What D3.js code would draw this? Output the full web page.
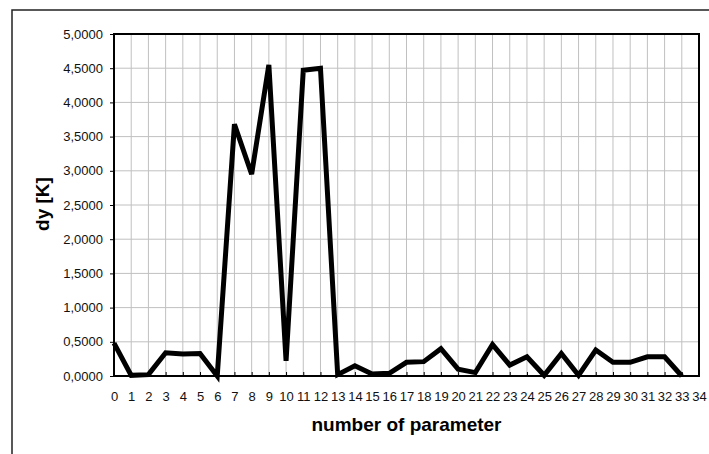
<!DOCTYPE html>
<html><head><meta charset="utf-8">
<script src="https://cdn.jsdelivr.net/npm/d3@7"></script>
<style>body{margin:0;background:#fff}svg{display:block}</style>
</head><body>
<script>
const params = d3.range(0, 34);
const dyValues = [0.48,0.01,0.02,0.34,0.32,0.33,0.0,3.68,2.95,4.55,0.22,4.47,4.50,0.02,0.15,0.03,0.04,0.20,0.21,0.40,0.10,0.05,0.46,0.16,0.28,0.01,0.33,0.01,0.38,0.20,0.20,0.28,0.28,0.0];
const xTicks = d3.range(0, 35);
const yTicks = d3.range(0, 5.0001, 0.5);
const xTitle = "number of parameter";
const yTitle = "dy [K]";

const W = 709, H = 454;
const m = {left:114, top:34, right:699, bottom:376};
const svg = d3.select("body").append("svg").attr("width", W).attr("height", H);
const font = "Liberation Sans, Arial, sans-serif";

svg.append("rect").attr("x",12).attr("y",10).attr("width",W+20).attr("height",H+20)
  .attr("fill","none").attr("stroke","#222").attr("stroke-width",1.5);

const x = d3.scaleLinear().domain([0,34]).range([m.left, m.right]);
const y = d3.scaleLinear().domain([0,5]).range([m.bottom, m.top]);

const g = svg.append("g");
g.selectAll(".vg").data(xTicks).enter().append("line")
  .attr("x1",d=>x(d)).attr("x2",d=>x(d)).attr("y1",m.top).attr("y2",m.bottom)
  .attr("stroke","#c0c0c0").attr("stroke-width",1);
g.selectAll(".hg").data(yTicks).enter().append("line")
  .attr("x1",m.left).attr("x2",m.right).attr("y1",d=>y(d)).attr("y2",d=>y(d))
  .attr("stroke","#c0c0c0").attr("stroke-width",1);

const fmt = d => d3.format(".4f")(d).replace(".", ",");
const yAxis = svg.append("g").attr("transform",`translate(${m.left},0)`)
  .call(d3.axisLeft(y).tickValues(yTicks).tickFormat(fmt).tickSize(4).tickPadding(7));
yAxis.select(".domain").remove();
yAxis.selectAll("text").attr("font-family",font).attr("font-size",13).attr("fill","#111");
yAxis.selectAll("line").attr("stroke","#000");

const xAxis = svg.append("g").attr("transform",`translate(0,${m.bottom})`)
  .call(d3.axisBottom(x).tickValues(xTicks).tickFormat(d=>d).tickSize(-4).tickPadding(16));
xAxis.select(".domain").remove();
xAxis.selectAll("text").attr("font-family",font).attr("font-size",13).attr("fill","#111");
xAxis.selectAll("line").attr("stroke","#000");

svg.append("rect").attr("x",m.left).attr("y",m.top).attr("width",m.right-m.left).attr("height",m.bottom-m.top)
  .attr("fill","none").attr("stroke","#000").attr("stroke-width",2);

svg.append("path").datum(dyValues)
  .attr("d", d3.line().x((d,i)=>x(params[i])).y(d=>y(d)))
  .attr("fill","none").attr("stroke","#000").attr("stroke-width",5).attr("stroke-linejoin","miter");

svg.append("text").attr("x",(m.left+m.right)/2).attr("y",431).attr("text-anchor","middle")
  .attr("font-family",font).attr("font-size",19).attr("font-weight","bold").text(xTitle);
svg.append("text").attr("transform","translate(49,204) rotate(-90)").attr("text-anchor","middle")
  .attr("font-family",font).attr("font-size",19).attr("font-weight","bold").text(yTitle);
</script>
</body></html>
